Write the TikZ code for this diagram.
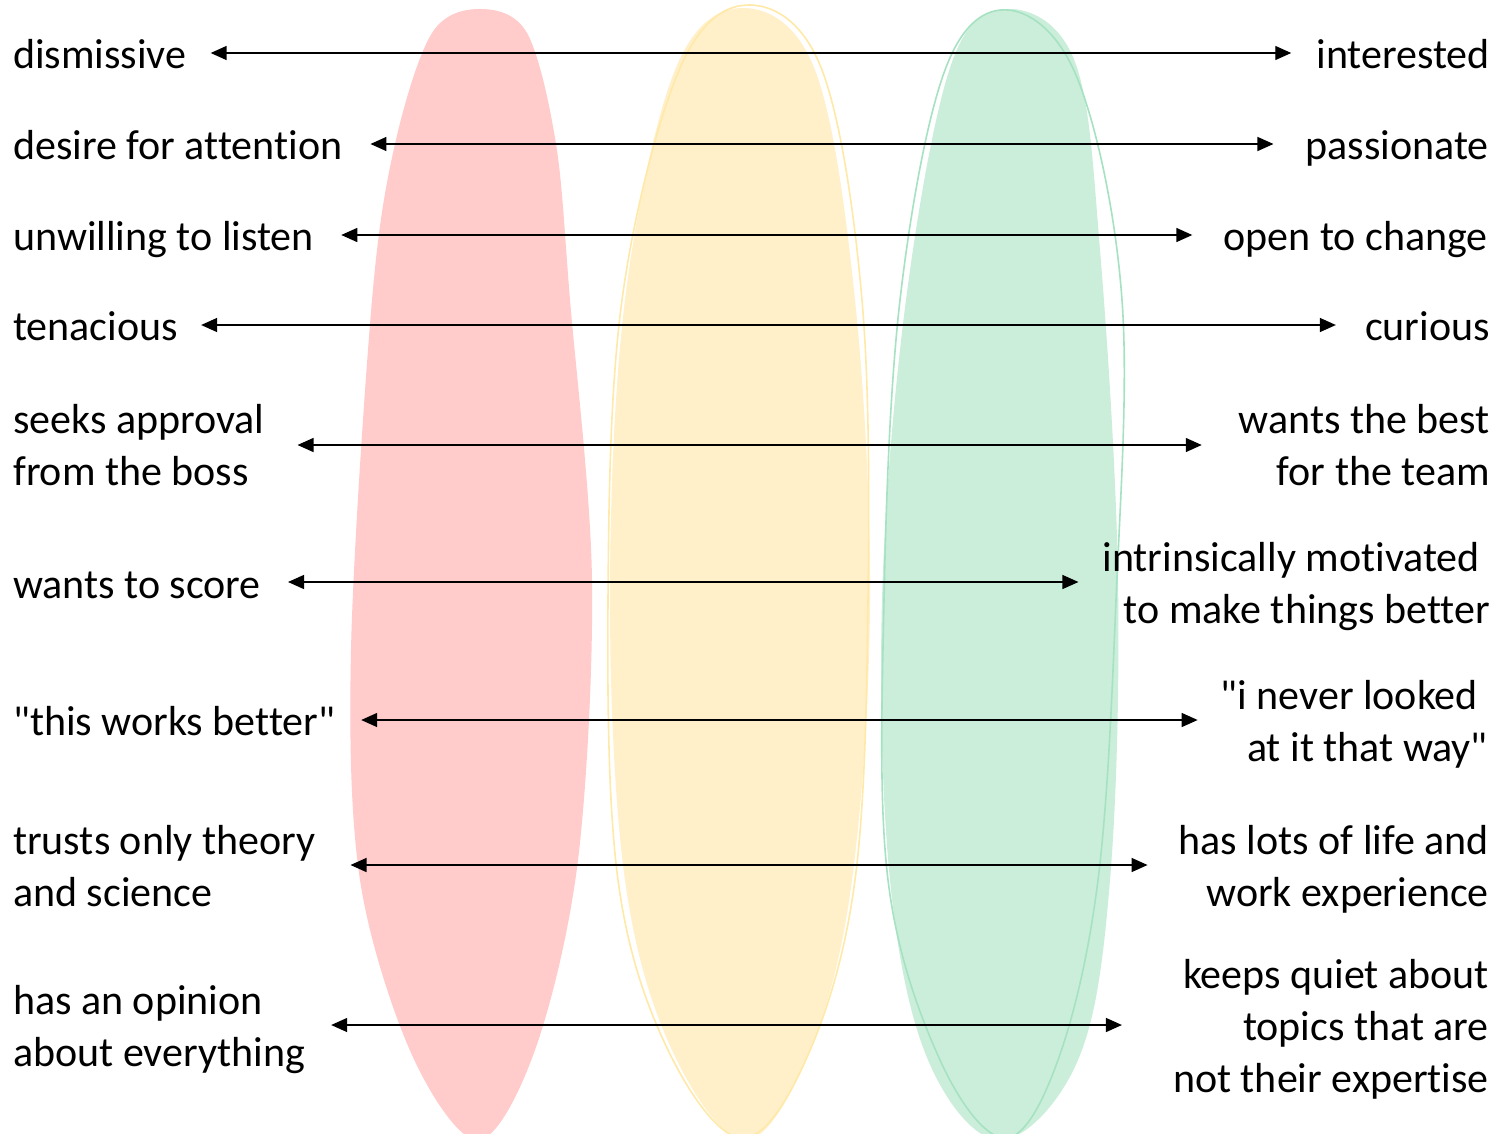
\documentclass[tikz,border=0pt]{standalone}
\usepackage{fontspec}
\setmainfont{Carlito}[Ligatures={NoCommon,TeXOff}]
\usetikzlibrary{arrows.meta,calc}
\definecolor{pinkfill}{HTML}{FFCBCB}
\definecolor{yellowfill}{HTML}{FFF0CA}
\definecolor{greenfill}{HTML}{CBEEDB}
\definecolor{yellowline}{HTML}{FFE9A8}
\definecolor{greenline}{HTML}{A6E2C2}
\begin{document}
\begin{tikzpicture}[x=1pt,y=-1pt,
  lbl/.style={inner sep=0pt, font=\fontsize{42}{52}\selectfont, text=black},
  lft/.style={lbl, anchor=base west, align=left},
  rgt/.style={lbl, anchor=base east, align=right},
  arr/.style={{Triangle[length=16pt,width=14pt]}-{Triangle[length=16pt,width=14pt]}, line width=1.4pt, black},
  blobline/.style={line width=1.6pt}]
\useasboundingbox (0,0) rectangle (1496,1133);
\fill[white] (0,0) rectangle (1496,1133);

% coloured blobs
\fill[pinkfill] plot[smooth cycle, tension=0.55] coordinates {
  (480,9) (527,33) (556,144) (570,300) (592,580) (578,860) (535,1050) (478,1140)
  (412,1055) (360,880) (351,650) (372,300) (395,144) (432,33)};
\fill[yellowfill] plot[smooth cycle, tension=0.6] coordinates {
  (743,8) (815,70) (855,300) (870,600) (852,880) (810,1050) (745,1140)
  (672,1050) (625,880) (610,600) (625,300) (675,70)};
\draw[yellowline, blobline] plot[smooth cycle, tension=0.6] coordinates {
  (750,5) (822,70) (862,300) (868,600) (855,880) (808,1055) (742,1138)
  (668,1050) (618,880) (608,600) (622,300) (680,68)};
\fill[greenfill] plot[smooth cycle, tension=0.6] coordinates {
  (1010,9) (1075,62) (1100,250) (1118,580) (1110,880) (1078,1060) (1000,1140)
  (928,1060) (890,880) (882,600) (906,300) (952,62)};
\draw[greenline, blobline] plot[smooth cycle, tension=0.6] coordinates {
  (1008,10) (1078,80) (1122,300) (1116,600) (1098,880) (1058,1060) (1005,1138)
  (940,1060) (888,880) (884,600) (900,300) (945,70)};

% left labels (base = baseline of last line)
\node[lft] (l1) at (13,68) {dismissive};
\node[lft] (l2) at (13,159) {desire for attention};
\node[lft] (l3) at (13,250) {unwilling to listen};
\node[lft] (l4) at (13,340) {tenacious};
\node[lft] (l5) at (13,485) {seeks approval\\from the boss};
\node[lft] (l6) at (13,598) {wants to score};
\node[lft] (l7) at (13,735) {"this works better"};
\node[lft] (l8) at (13,906) {trusts only theory\\and science};
\node[lft] (l9) at (13,1066) {has an opinion\\about everything};

% right labels
\node[rgt] (r1) at (1490,68) {interested};
\node[rgt] (r2) at (1489,159) {passionate};
\node[rgt] (r3) at (1488,250) {open to change};
\node[rgt] (r4) at (1490,340) {curious};
\node[rgt] (r5) at (1490,485) {wants the best\\for the team};
\node[rgt] (r6) at (1490,623) {intrinsically motivated\hspace*{10pt}\\to make things better};
\node[rgt] (r7) at (1488,761) {"i never looked\hspace*{10pt}\\at it that way"};
\node[rgt] (r8) at (1489,906) {has lots of life and\\work experience};
\node[rgt] (r9) at (1489,1092) {keeps quiet about\\topics that are\\not their expertise};

% arrows
\draw[arr] ($(l1.east |- 0,53)+(24,0)$) -- ($(r1.west |- 0,53)+(-25,0)$);
\draw[arr] ($(l2.east |- 0,144)+(28,0)$) -- ($(r2.west |- 0,144)+(-32,0)$);
\draw[arr] ($(l3.east |- 0,235)+(27,0)$) -- ($(r3.west |- 0,235)+(-31,0)$);
\draw[arr] ($(l4.east |- 0,325)+(23,0)$) -- ($(r4.west |- 0,325)+(-29,0)$);
\draw[arr] ($(l5.east |- 0,445)+(33,0)$) -- ($(r5.west |- 0,445)+(-37,0)$);
\draw[arr] ($(l6.east |- 0,582)+(27,0)$) -- ($(r6.west |- 0,582)+(-24,0)$);
\draw[arr] ($(l7.east |- 0,720)+(26,0)$) -- ($(r7.west |- 0,720)+(-23,0)$);
\draw[arr] ($(l8.east |- 0,865)+(35,0)$) -- ($(r8.west |- 0,865)+(-31,0)$);
\draw[arr] ($(l9.east |- 0,1025)+(26,0)$) -- ($(r9.west |- 0,1025)+(-51,0)$);
\end{tikzpicture}
\end{document}
